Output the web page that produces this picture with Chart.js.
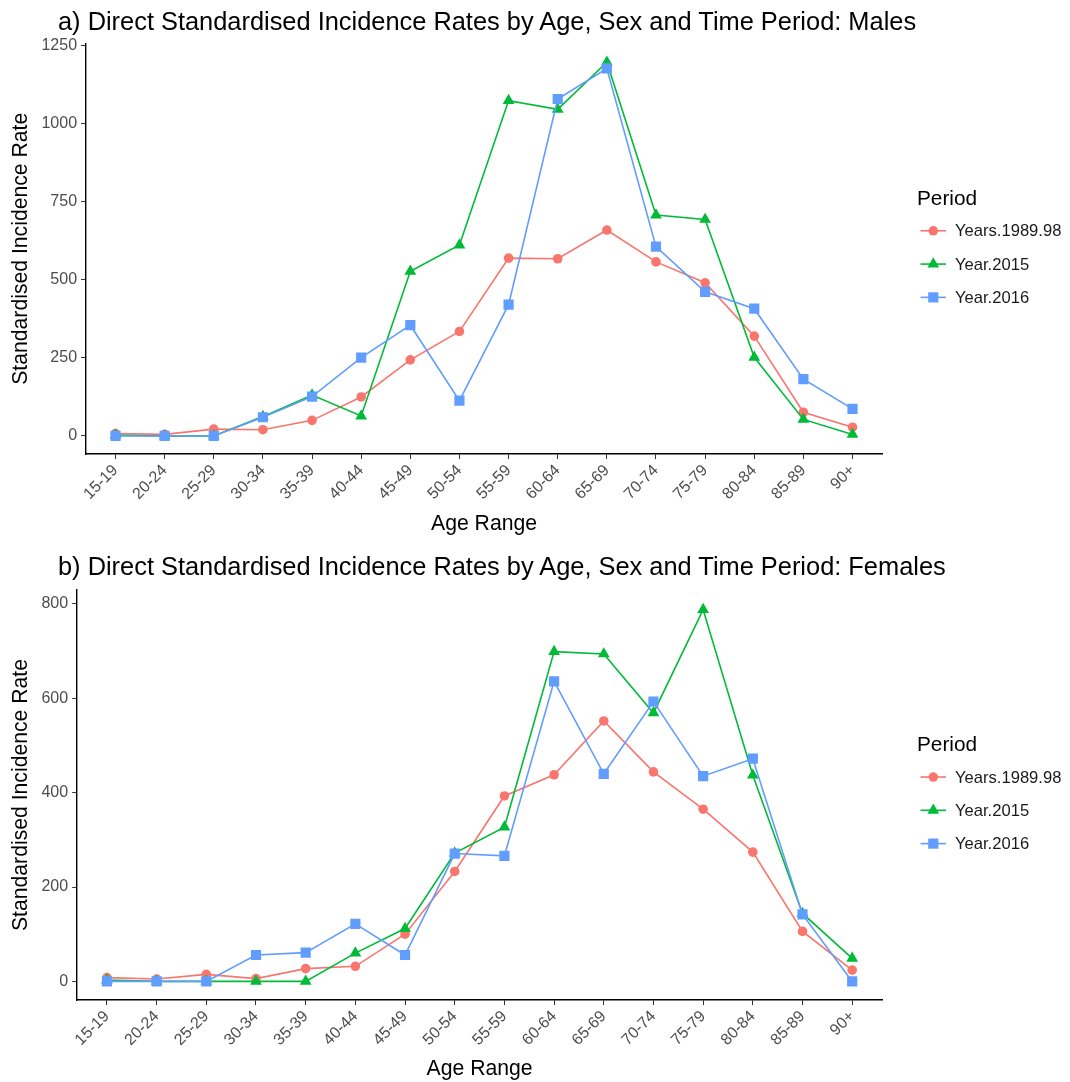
<!DOCTYPE html>
<html>
<head>
<meta charset="utf-8">
<script src="https://cdn.jsdelivr.net/npm/chart.js@4.4.1/dist/chart.umd.min.js"></script>
<style>
  body { margin: 0; background: #fff; }
  .panel { position: relative; width: 1070px; height: 541px; }
  .panel-title {
    position: absolute; left: 58px; margin: 0;
    font-family: "Liberation Sans", Arial, sans-serif;
    font-size: 25.4px; line-height: 1; font-weight: normal; color: #000;
    white-space: nowrap;
  }
</style>
</head>
<body>
<div class="panel">
  <div class="panel-title" style="top: 9px;">a) Direct Standardised Incidence Rates by Age, Sex and Time Period: Males</div>
  <canvas id="males-chart"></canvas>
</div>
<div class="panel">
  <div class="panel-title" style="top: 13px;">b) Direct Standardised Incidence Rates by Age, Sex and Time Period: Females</div>
  <canvas id="females-chart"></canvas>
</div>
<script>
// Age groups on the x axis
const ageRanges = ['15-19', '20-24', '25-29', '30-34', '35-39', '40-44', '45-49', '50-54',
                   '55-59', '60-64', '65-69', '70-74', '75-79', '80-84', '85-89', '90+'];

const periodNames = ['Years.1989.98', 'Year.2015', 'Year.2016'];

// a) Males
const males1989 = [8, 5, 22, 20, 50, 125, 244, 335, 570, 568, 660, 558, 491, 320, 76, 28];
const males2015 = [3, 0, 0, 62, 131, 64, 528, 612, 1075, 1047, 1198, 708, 694, 252, 53, 5];
const males2016 = [0, 0, 0, 60, 126, 251, 355, 113, 421, 1080, 1178, 607, 462, 408, 182, 87];
const malesTicks = [0, 250, 500, 750, 1000, 1250];

// b) Females
const females1989 = [8, 5, 15, 6, 27, 32, 100, 233, 393, 438, 552, 444, 365, 274, 106, 24];
const females2015 = [3, 0, 0, 0, 0, 60, 112, 272, 327, 699, 694, 569, 788, 437, 144, 49];
const females2016 = [0, 0, 0, 56, 61, 122, 56, 271, 266, 636, 440, 593, 435, 472, 142, 0];
const femalesTicks = [0, 200, 400, 600, 800];

const colours = ['#F8766D', '#00BA38', '#619CFF'];
const shapes = ['circle', 'triangle', 'rect'];
const radii = [4.8, 6.8, 7.2];
const fontFamily = '"Liberation Sans", Arial, sans-serif';

// draws the ggplot-like legend to the right of the plot
const periodLegend = {
    id: 'periodLegend',
    afterDraw(chart) {
        const ctx = chart.ctx;
        const area = chart.chartArea;
        const cy = (area.top + area.bottom) / 2;
        const x0 = area.right;
        ctx.save();
        ctx.fillStyle = '#000';
        ctx.font = '20.8px ' + fontFamily;
        ctx.textBaseline = 'middle';
        ctx.textAlign = 'left';
        ctx.fillText('Period', x0 + 35, cy - 50);
        ctx.font = '16.6px ' + fontFamily;
        chart.data.datasets.forEach((ds, i) => {
            const y = cy - 18 + i * 33.3;
            ctx.strokeStyle = colours[i];
            ctx.lineWidth = 1.6;
            ctx.beginPath();
            ctx.moveTo(x0 + 38.5, y);
            ctx.lineTo(x0 + 64, y);
            ctx.stroke();
            ctx.fillStyle = colours[i];
            Chart.helpers.drawPoint(ctx, { pointStyle: shapes[i], radius: radii[i], borderWidth: 0 }, x0 + 51.3, y);
            ctx.fillStyle = '#1a1a1a';
            ctx.fillText(ds.label, x0 + 73, y + 1);
        });
        ctx.restore();
    }
};

function toPoints(values) {
    return values.map((v, i) => ({ x: i, y: v }));
}

function makeChart(canvasId, seriesList, yTicks, yMin, yMax, padTop, padBottom, xTitleGap) {
    const ctx = document.getElementById(canvasId);
    const step = yTicks[1] - yTicks[0];
    return new Chart(ctx, {
        type: 'line',
        data: {
            datasets: seriesList.map((values, i) => ({
                label: periodNames[i],
                data: toPoints(values),
                borderColor: colours[i],
                backgroundColor: colours[i],
                pointBackgroundColor: colours[i],
                pointBorderColor: colours[i],
                pointBorderWidth: 0,
                pointStyle: shapes[i],
                pointRadius: radii[i],
                borderWidth: 1.6,
                tension: 0,
                fill: false,
                order: 2 - i
            }))
        },
        options: {
            responsive: true,
            maintainAspectRatio: false,
            animation: false,
            layout: {
                padding: { left: 7, right: 188, top: padTop, bottom: padBottom }
            },
            plugins: {
                legend: { display: false },
                tooltip: { enabled: false },
                title: { display: false }
            },
            scales: {
                x: {
                    type: 'linear',
                    min: -0.6,
                    max: 15.6,
                    grid: { drawOnChartArea: false, drawTicks: true, tickLength: 5, color: '#333' },
                    border: { display: true, color: '#000', width: 1.4 },
                    ticks: {
                        stepSize: 1,
                        includeBounds: false,
                        autoSkip: false,
                        minRotation: 45,
                        maxRotation: 45,
                        padding: 2,
                        color: '#4D4D4D',
                        font: { family: fontFamily, size: 16 },
                        callback: function(value) {
                            return ageRanges[value];
                        }
                    },
                    title: {
                        display: true,
                        text: 'Age Range',
                        color: '#000',
                        font: { family: fontFamily, size: 21.2 },
                        padding: { top: xTitleGap, bottom: 0 }
                    }
                },
                y: {
                    min: yMin,
                    max: yMax,
                    grid: { drawOnChartArea: false, drawTicks: true, tickLength: 5, color: '#333' },
                    border: { display: true, color: '#000', width: 1.4 },
                    ticks: {
                        stepSize: step,
                        includeBounds: false,
                        padding: 4,
                        color: '#4D4D4D',
                        font: { family: fontFamily, size: 16 },
                        callback: function(value) {
                            return String(value);
                        }
                    },
                    title: {
                        display: true,
                        text: 'Standardised Incidence Rate',
                        color: '#000',
                        font: { family: fontFamily, size: 21.2 },
                        padding: { top: 1, bottom: 4 }
                    }
                }
            }
        },
        plugins: [periodLegend]
    });
}

makeChart('males-chart', [males1989, males2015, males2016], malesTicks, -58, 1258, 43.5, 4, 6);
makeChart('females-chart', [females1989, females2015, females2016], femalesTicks, -39.5, 829.5, 49, 0, 5);
</script>
</body>
</html>
